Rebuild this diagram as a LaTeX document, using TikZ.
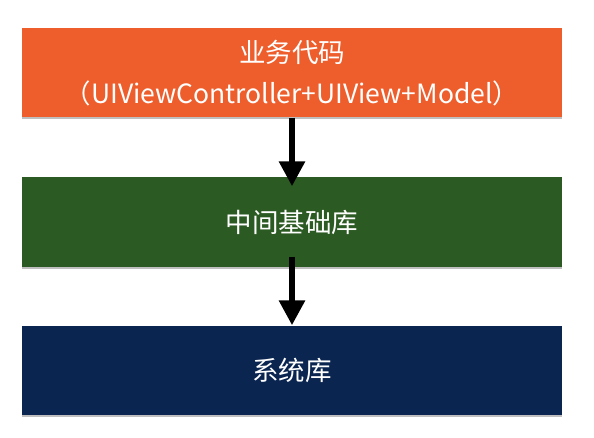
\documentclass[tikz,border=0pt]{standalone}
\usepackage{fontspec}
\setmainfont{Noto Sans CJK SC}
\usetikzlibrary{arrows.meta,shadows}
\definecolor{bizorange}{HTML}{EE5E2C}
\definecolor{midgreen}{HTML}{2C5A23}
\definecolor{sysnavy}{HTML}{0A2550}
\tikzset{
  layerbox/.style={minimum width=540bp, minimum height=89bp, inner sep=0pt,
    text=white, font=\fontsize{26.5bp}{41bp}\selectfont, align=center,
    drop shadow={shadow xshift=0bp, shadow yshift=-2bp, opacity=0.25, fill=black}},
  flowarrow/.style={line width=6bp, -{Triangle[width=25bp,length=25bp]}}
}
\begin{document}
\begin{tikzpicture}[x=1bp,y=-1bp]
\useasboundingbox (0,0) rectangle (594,438);
\node[layerbox, fill=bizorange] (biz) at (292,73) {业务代码\\（UIViewController+UIView+Model）};
\node[layerbox, fill=midgreen] (mid) at (292,222) {中间基础库};
\node[layerbox, fill=sysnavy] (sys) at (292,370) {系统库};
\draw[flowarrow, shorten >=-9bp] (biz.south) -- (mid.north);
\draw[flowarrow, shorten <=-10bp] (mid.south) -- (sys.north);
\end{tikzpicture}
\end{document}
